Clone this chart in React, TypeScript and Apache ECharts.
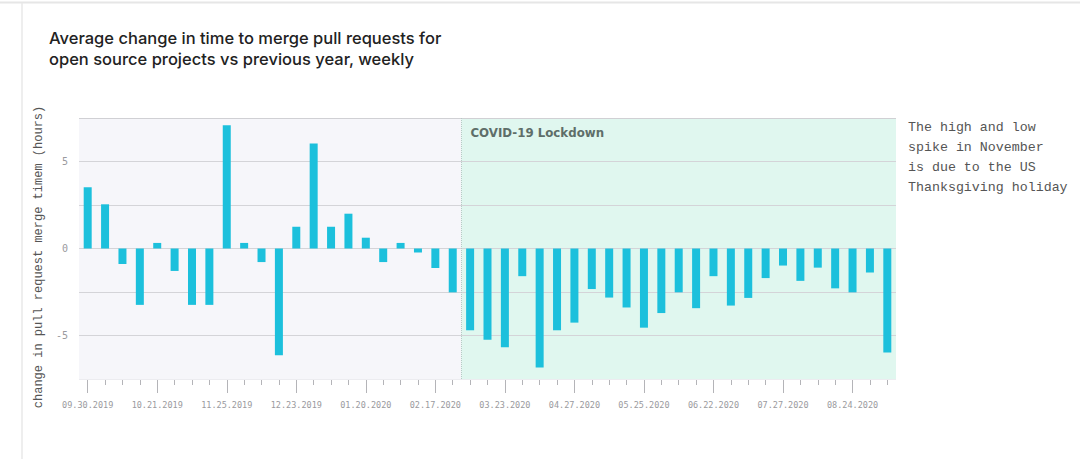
import React, { useEffect, useRef } from "react";
import * as echarts from "echarts";

const categories: string[] = [
  "09.30.2019", "10.07.2019", "10.10.2019", "10.14.2019", "10.21.2019", "10.28.2019", "11.04.2019", "11.18.2019",
  "11.25.2019", "12.02.2019", "12.09.2019", "12.16.2019", "12.23.2019", "12.30.2019", "01.06.2020", "01.13.2020",
  "01.20.2020", "01.27.2020", "02.03.2020", "02.10.2020", "02.17.2020", "03.02.2020", "03.09.2020", "03.16.2020",
  "03.23.2020", "03.30.2020", "04.06.2020", "04.20.2020", "04.27.2020", "05.04.2020", "05.11.2020", "05.18.2020",
  "05.25.2020", "06.01.2020", "06.08.2020", "06.15.2020", "06.22.2020", "06.29.2020", "07.06.2020", "07.20.2020",
  "07.27.2020", "08.03.2020", "08.10.2020", "08.17.2020", "08.24.2020", "08.31.2020", "09.07.2020",
];

const changeHours: number[] = [
  3.52, 2.54, -0.89, -3.24, 0.32, -1.29, -3.24, -3.24,
  7.08, 0.32, -0.78, -6.14, 1.25, 6.04, 1.25, 2.0,
  0.62, -0.78, 0.32, -0.23, -1.12, -2.52, -4.7, -5.25,
  -5.68, -1.59, -6.84, -4.7, -4.26, -2.33, -2.82, -3.39,
  -4.55, -3.71, -2.52, -3.43, -1.59, -3.28, -2.84, -1.7,
  -0.98, -1.86, -1.1, -2.29, -2.52, -1.38, -5.98,
];

const yTickLabels: number[] = [5, 0, -5];
const lockdownStartIndex = 22;
const lockdownLabel = "COVID-19 Lockdown";
const titleText = "Average change in time to merge pull requests for\nopen source projects vs previous year, weekly";
const yAxisName = "change in pull request merge timem (hours)";
const noteText = "The high and low\nspike in November\nis due to the US\nThanksgiving holiday";

export default function App() {
  const ref = useRef<HTMLDivElement>(null);

  useEffect(() => {
    document.body.style.margin = "0";
    if (!ref.current) return;
    const chart = echarts.init(ref.current, undefined, { renderer: "svg" });
    const mono = "'Liberation Mono', 'DejaVu Sans Mono', monospace";
    chart.setOption({
      animation: false,
      backgroundColor: "#ffffff",
      title: {
        text: titleText,
        left: 44,
        top: 22,
        textStyle: {
          fontFamily: "Inter, 'Noto Sans', sans-serif",
          fontSize: 16.5,
          fontWeight: 500,
          color: "#222222",
          lineHeight: 21,
        },
      },
      grid: {
        left: 79,
        right: 184,
        top: 118,
        bottom: 80,
        show: true,
        backgroundColor: "#f6f6fa",
        borderWidth: 0,
      },
      xAxis: [
        {
          type: "category",
          data: categories,
          position: "bottom",
          axisLine: { show: false, onZero: false },
          axisTick: { show: true, interval: 0, alignWithLabel: true, length: 6, lineStyle: { color: "#b4b4b8" } },
          axisLabel: { show: false },
        },
        {
          type: "category",
          data: categories,
          position: "bottom",
          axisLine: { show: false, onZero: false },
          axisTick: { show: true, interval: 3, alignWithLabel: true, length: 14, lineStyle: { color: "#b4b4b8" } },
          axisLabel: {
            interval: 3,
            margin: 21,
            fontFamily: "'DejaVu Sans Mono', monospace",
            fontSize: 8.5,
            color: "#9a9a9e",
          },
        },
        {
          type: "value",
          min: 0,
          max: categories.length,
          show: false,
        },
      ],
      yAxis: [
        {
          type: "value",
          min: -7.5,
          max: 7.5,
          interval: 2.5,
          z: 1.5,
          axisLine: { show: false },
          axisTick: { show: false },
          axisLabel: {
            margin: 11,
            fontFamily: "'DejaVu Sans Mono', monospace",
            fontSize: 10,
            color: "#9a9a9e",
            formatter: (v: number) => (yTickLabels.indexOf(v) >= 0 ? String(v) : ""),
          },
          splitLine: {
            show: true,
            lineStyle: {
              color: ["#ececf0", "#d4d4d8", "#d4d4d8", "#d4d4d8", "#d4d4d8", "#d4d4d8", "#d0d0d4"],
              width: 1,
            },
          },
        },
      ],
      series: [
        {
          type: "line",
          xAxisIndex: 2,
          yAxisIndex: 0,
          data: [],
          silent: true,
          markArea: {
            silent: true,
            itemStyle: { color: "#e0f7ef" },
            label: {
              show: true,
              position: "insideTopLeft",
              distance: 9,
              formatter: lockdownLabel,
              fontFamily: "'DejaVu Sans', 'Liberation Sans', sans-serif",
              fontWeight: "bold",
              fontSize: 11.8,
              color: "#5e6e69",
            },
            data: [[{ xAxis: lockdownStartIndex, yAxis: 7.5 }, { xAxis: categories.length, yAxis: -7.5 }]],
          },
          markLine: {
            silent: true,
            symbol: ["none", "none"],
            label: { show: false },
            lineStyle: { type: "dotted", color: "#b6cbc4", width: 1 },
            data: [{ xAxis: lockdownStartIndex }],
          },
        },
        {
          type: "bar",
          xAxisIndex: 0,
          yAxisIndex: 0,
          data: changeHours,
          barWidth: 8,
          z: 3,
          itemStyle: { color: "#1cc0dc" },
        },
      ],
      graphic: [
        {
          type: "line",
          shape: { x1: 0, y1: 2.5, x2: 1080, y2: 2.5 },
          style: { stroke: "#e6e6e6", lineWidth: 2 },
          silent: true,
        },
        {
          type: "line",
          shape: { x1: 22, y1: 3, x2: 22, y2: 459 },
          style: { stroke: "#e8e8e8", lineWidth: 1.5 },
          silent: true,
        },
        {
          type: "text",
          x: 39,
          y: 257,
          rotation: Math.PI / 2,
          style: {
            text: yAxisName,
            fontFamily: mono,
            fontSize: 12,
            fill: "#555555",
            textAlign: "center",
            textVerticalAlign: "middle",
          },
        },
        {
          type: "text",
          x: 908,
          y: 117,
          style: {
            text: noteText,
            fontFamily: mono,
            fontSize: 13.3,
            lineHeight: 20,
            fill: "#555555",
            textAlign: "left",
            textVerticalAlign: "top",
          },
        },
      ],
    });
    return () => chart.dispose();
  }, []);

  return <div ref={ref} style={{ width: 1080, height: 459 }} />;
}
